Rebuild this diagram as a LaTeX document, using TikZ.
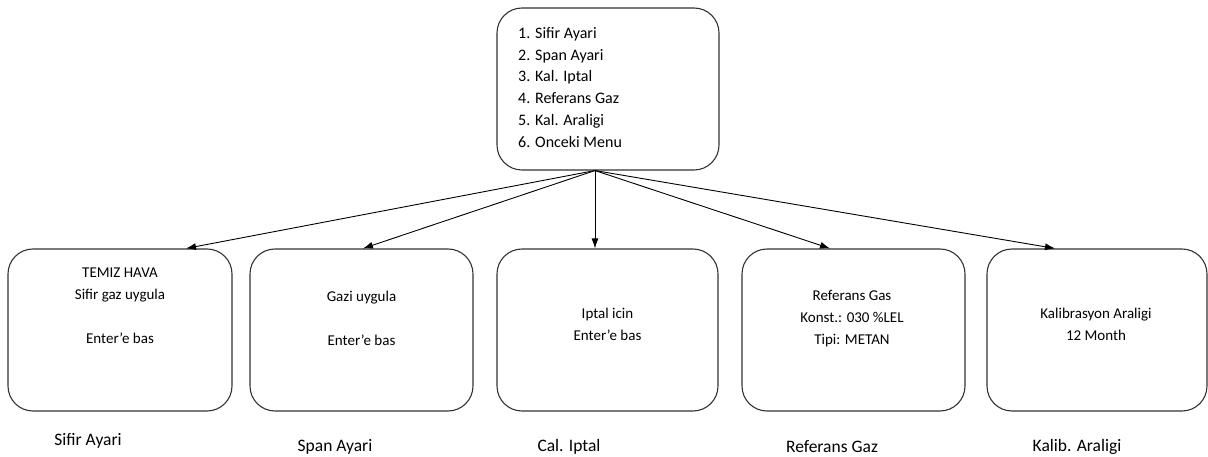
\documentclass[tikz,border=0pt]{standalone}
\usepackage{fontspec}
\setmainfont{Carlito}
\usetikzlibrary{arrows.meta}
\begin{document}
\begin{tikzpicture}[x=1pt,y=-1pt,
  box/.style={draw=black!80, line width=1.1pt, rounded corners=25pt,
    minimum width=222pt, minimum height=162pt, inner sep=0pt},
  txt/.style={font=\fontsize{15}{22}\selectfont, align=center, inner sep=0pt, anchor=north},
  menutxt/.style={font=\fontsize{16}{21.8}\selectfont, align=left, inner sep=0pt, anchor=north west},
  lbl/.style={font=\fontsize{17.5}{20}\selectfont, inner sep=0pt},
  arr/.style={-{Latex[length=10pt,width=7pt]}, line width=0.9pt}]
\useasboundingbox (0,0) rectangle (1208,457);

% main menu
\node[box] (menu) at (608,89) {};
\node[menutxt] (menulist) at (518,27) {1. Sifir Ayari\\2. Span Ayari\\3. Kal. Iptal\\4. Referans Gaz\\5. Kal. Araligi\\6. Onceki Menu};

% sub-menu boxes
\node[box, minimum width=224pt] (b1) at (120,330) {};
\node[box, minimum width=223pt] (b2) at (361.5,330) {};
\node[box, minimum width=221pt] (b3) at (607.5,330) {};
\node[box, minimum width=223pt] (b4) at (853.5,330) {};
\node[box, minimum width=220pt] (b5) at (1097,330) {};

% box contents
\node[txt] (t1) at (120,268) {TEMIZ HAVA\\Sifir gaz uygula\\ \\Enter'e bas};
\node[txt] (t2) at (361.5,291) {Gazi uygula\\ \\Enter'e bas};
\node[txt] (t3) at (607.5,308) {Iptal icin\\Enter'e bas};
\node[txt] (t4) at (852,290) {Referans Gas\\Konst.: 030 \%LEL\\Tipi: METAN};
\node[txt] (t5) at (1096,308) {Kalibrasyon Araligi\\12 Month};

% captions under the boxes
\node[lbl] (c1) at (88,441) {Sifir Ayari};
\node[lbl] (c2) at (335,447) {Span Ayari};
\node[lbl] (c3) at (569,447) {Cal. Iptal};
\node[lbl] (c4) at (832,447) {Referans Gaz};
\node[lbl] (c5) at (1077,447) {Kalib. Araligi};

% connectors from the menu to each sub-menu
\coordinate (src) at ([xshift=-13pt]menu.south);
\draw[arr] (src) -- ([xshift=66pt]b1.north);
\draw[arr] (src) -- ([xshift=1.5pt]b2.north);
\draw[arr] (src) -- ([xshift=-12.5pt]b3.north);
\draw[arr] (src) -- ([xshift=-23.5pt]b4.north);
\draw[arr] (src) -- ([xshift=-42pt]b5.north);
\end{tikzpicture}
\end{document}
